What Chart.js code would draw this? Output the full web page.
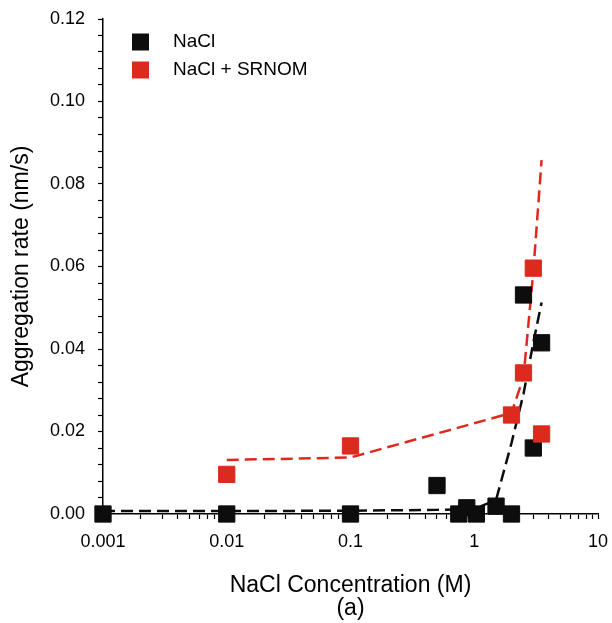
<!DOCTYPE html>
<html>
<head>
<meta charset="utf-8">
<script src="https://cdn.jsdelivr.net/npm/chart.js@4.4.1/dist/chart.umd.min.js"></script>
<style>
  body { margin: 0; background: #fff; }
</style>
</head>
<body>
<canvas id="aggchart" width="612" height="623"></canvas>
<script>
const naclConc = [0.001, 0.01, 0.1, 0.5, 0.75, 0.87, 1.04, 1.5, 2.0, 2.5, 3.0, 3.5];
const naclRate = [0, 0, 0, 0.0069, 0, 0.0015, 0, 0.0019, 0, 0.0531, 0.016, 0.0415];
const srnomConc = [0.01, 0.1, 2.0, 2.5, 3.0, 3.5];
const srnomRate = [0.0096, 0.0165, 0.024, 0.0342, 0.0596, 0.0194];

// dashed fit curves
const naclFitConc = [0.001, 0.01, 0.1, 0.5, 1.0, 1.5, 2.0, 2.5, 3.0, 3.5];
const naclFitRate = [0.0007, 0.0007, 0.0008, 0.001, 0.0012, 0.0034, 0.0172, 0.0291, 0.0415, 0.0513];
const srnomFitConc = [0.01, 0.1, 2.0, 2.5, 3.0, 3.5];
const srnomFitRate = [0.0131, 0.0137, 0.0245, 0.0332, 0.0587, 0.0858];

const xTickValues = [0.001, 0.01, 0.1, 1, 10];
const xTickLabels = ['0.001', '0.01', '0.1', '1', '10'];
const yTickValues = [0, 0.02, 0.04, 0.06, 0.08, 0.10, 0.12];
const yTickLabels = ['0.00', '0.02', '0.04', '0.06', '0.08', '0.10', '0.12'];

const BLACK = '#0d0d0d';
const RED = '#dc2a1e';
const FONT = "'Liberation Sans', Arial, sans-serif";

function toPoints(xs, ys) {
    return xs.map((x, i) => ({ x: x, y: ys[i] }));
}

function findLabel(values, labels, v) {
    const i = values.findIndex(t => Math.abs(t - v) < 1e-9 + Math.abs(t) * 1e-6);
    return i >= 0 ? labels[i] : '';
}

// legend drawn inside the plot, top left
const insideLegend = {
    id: 'insideLegend',
    afterDraw(chart) {
        const { ctx, chartArea } = chart;
        const items = chart.data.datasets.filter(d => !d.showLine);
        ctx.save();
        ctx.font = '19px ' + FONT;
        ctx.textBaseline = 'middle';
        ctx.textAlign = 'left';
        items.forEach((d, i) => {
            const y = chartArea.top + 23 + i * 28;
            ctx.fillStyle = d.backgroundColor;
            ctx.fillRect(chartArea.left + 29, y - 8.5, 17, 17);
            ctx.fillStyle = '#000';
            ctx.fillText(d.label, chartArea.left + 70, y);
        });
        ctx.restore();
    }
};

Chart.defaults.font.family = FONT;
Chart.defaults.color = '#000';

const ctx = document.getElementById('aggchart');

const myChart = new Chart(ctx, {
    type: 'scatter',
    data: {
        datasets: [{
            label: 'NaCl',
            data: toPoints(naclConc, naclRate),
            backgroundColor: BLACK,
            borderColor: BLACK,
            pointStyle: 'rect',
            pointRadius: 11.5,
            pointBorderWidth: 1,
            clip: false,
            order: 1
        }, {
            label: 'NaCl + SRNOM',
            data: toPoints(srnomConc, srnomRate),
            backgroundColor: RED,
            borderColor: RED,
            pointStyle: 'rect',
            pointRadius: 11.5,
            pointBorderWidth: 1,
            clip: false,
            order: 0
        }, {
            label: 'NaCl fit',
            data: toPoints(naclFitConc, naclFitRate),
            showLine: true,
            borderColor: BLACK,
            borderWidth: 2.5,
            borderDash: [12, 6],
            pointRadius: 0,
            tension: 0,
            clip: false,
            order: 2
        }, {
            label: 'NaCl + SRNOM fit',
            data: toPoints(srnomFitConc, srnomFitRate),
            showLine: true,
            borderColor: RED,
            borderWidth: 2.5,
            borderDash: [12, 6],
            pointRadius: 0,
            tension: 0,
            clip: false,
            order: 3
        }]
    },
    options: {
        responsive: false,
        animation: false,
        events: [],
        layout: {
            padding: { left: 0, right: 14, top: 19, bottom: 0 }
        },
        plugins: {
            legend: { display: false },
            tooltip: { enabled: false }
        },
        scales: {
            x: {
                type: 'logarithmic',
                min: 0.001,
                max: 10,
                afterFit: function (scale) {
                    scale.height = 109;
                    scale.paddingLeft = 0;
                    scale.paddingRight = 0;
                },
                afterBuildTicks: function (scale) {
                    const ticks = [];
                    for (let k = 0; k < xTickValues.length - 1; k++) {
                        for (let m = 1; m <= 9; m++) {
                            ticks.push({ value: Number((m * xTickValues[k]).toPrecision(6)) });
                        }
                    }
                    ticks.push({ value: xTickValues[xTickValues.length - 1] });
                    scale.ticks = ticks;
                },
                ticks: {
                    autoSkip: false,
                    maxRotation: 0,
                    padding: 12,
                    font: { size: 18 },
                    callback: function (value) {
                        return findLabel(xTickValues, xTickLabels, value);
                    }
                },
                grid: {
                    drawOnChartArea: false,
                    drawTicks: true,
                    tickLength: 5,
                    tickColor: '#000',
                    tickWidth: 1.2
                },
                border: { display: true, color: '#000', width: 1.5 },
                title: {
                    display: true,
                    text: ['NaCl Concentration (M)', '(a)'],
                    font: { size: 23, lineHeight: 1 },
                    padding: { top: 0, bottom: 2.5 }
                }
            },
            y: {
                type: 'linear',
                min: 0,
                max: 0.12,
                afterFit: function (scale) {
                    scale.width = 103;
                    scale.paddingTop = 0;
                    scale.paddingBottom = 0;
                },
                afterBuildTicks: function (scale) {
                    const ticks = [];
                    for (let i = 0; i <= 30; i++) {
                        ticks.push({ value: Number((i * 0.004).toFixed(3)) });
                    }
                    scale.ticks = ticks;
                },
                ticks: {
                    autoSkip: false,
                    padding: 13,
                    font: { size: 18 },
                    callback: function (value) {
                        return findLabel(yTickValues, yTickLabels, value);
                    }
                },
                grid: {
                    drawOnChartArea: false,
                    drawTicks: true,
                    tickLength: 5,
                    tickColor: '#000',
                    tickWidth: 1.2
                },
                border: { display: true, color: '#000', width: 1.5 },
                title: {
                    display: true,
                    text: 'Aggregation rate (nm/s)',
                    font: { size: 23, lineHeight: 1 },
                    padding: { top: 10.5, bottom: 0 }
                }
            }
        }
    },
    plugins: [insideLegend]
});
</script>
</body>
</html>
